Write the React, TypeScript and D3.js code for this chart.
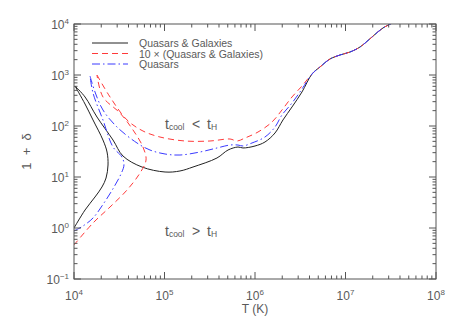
import { useEffect, useRef } from "react";
import * as d3 from "d3";

// values, as log10(T) and log10(1 + delta)
const tailLogT = [6.63, 6.718, 6.829, 6.939, 7.05, 7.16, 7.293, 7.414, 7.547];
const tailLogD = [3.02, 3.157, 3.314, 3.392, 3.451, 3.549, 3.745, 3.922, 4.04];

const blackLowLogT = [4.0, 4.122, 4.232, 4.309, 4.354, 4.376, 4.365, 4.32, 4.21, 4.122, 4.011];
const blackLowLogD = [0.0, 0.353, 0.608, 0.804, 0.98, 1.235, 1.49, 1.725, 2.118, 2.431, 2.784];
const blackHighLogT = [4.011, 4.122, 4.254, 4.431, 4.541, 4.751, 5.006, 5.171, 5.315, 5.58, 5.702, 5.812, 5.867, 6.0, 6.11, 6.221, 6.309, 6.409, 6.519];
const blackHighLogD = [2.784, 2.569, 2.176, 1.725, 1.412, 1.196, 1.098, 1.118, 1.196, 1.373, 1.529, 1.588, 1.569, 1.608, 1.686, 1.863, 2.118, 2.373, 2.667];

const redLowLogT = [4.0, 4.21, 4.398, 4.586, 4.729, 4.796, 4.762, 4.652, 4.508, 4.32, 4.254];
const redLowLogD = [-0.333, 0.098, 0.412, 0.745, 1.078, 1.333, 1.588, 1.922, 2.255, 2.569, 3.0];
const redHighLogT = [4.254, 4.398, 4.586, 4.762, 4.95, 5.227, 5.503, 5.724, 5.801, 5.89, 6.033, 6.188, 6.298, 6.409, 6.519];
const redHighLogD = [3.0, 2.569, 2.118, 1.902, 1.784, 1.706, 1.706, 1.745, 1.706, 1.765, 1.882, 2.078, 2.314, 2.569, 2.784];

const blueLowLogT = [4.0, 4.099, 4.21, 4.331, 4.442, 4.519, 4.552, 4.53, 4.431, 4.32, 4.21, 4.177];
const blueLowLogD = [-0.059, 0.039, 0.196, 0.49, 0.804, 1.059, 1.235, 1.392, 1.588, 2.118, 2.647, 2.98];
const blueHighLogT = [4.177, 4.232, 4.32, 4.475, 4.696, 4.84, 5.006, 5.171, 5.392, 5.58, 5.724, 5.812, 5.867, 5.967, 6.11, 6.221, 6.298, 6.409, 6.519];
const blueHighLogD = [2.98, 2.667, 2.314, 1.98, 1.667, 1.529, 1.451, 1.431, 1.49, 1.569, 1.627, 1.627, 1.608, 1.667, 1.784, 1.98, 2.216, 2.451, 2.725];

const xDecades = [4, 5, 6, 7, 8];
const yDecades = [-1, 0, 1, 2, 3, 4];

const legendLabels = ["Quasars & Galaxies", "10 \u00d7 (Quasars & Galaxies)", "Quasars"];

const W = 458;
const H = 327;
const left = 74;
const right = 436;
const top = 24;
const bottom = 279;

const axisColor = "#555";
const textColor = "#5a5a5a";
const font = "'Liberation Sans', Arial, sans-serif";

const toPoints = (lt: number[], ld: number[]) =>
  lt.map((t, i) => [Math.pow(10, t), Math.pow(10, ld[i])] as [number, number]);

const series = [
  { color: "#222", dash: null, low: [blackLowLogT, blackLowLogD], high: [blackHighLogT, blackHighLogD] },
  { color: "#ff3a3a", dash: "6,4", low: [redLowLogT, redLowLogD], high: [redHighLogT, redHighLogD] },
  { color: "#3a3aff", dash: "8,3,1.5,3", low: [blueLowLogT, blueLowLogD], high: [blueHighLogT, blueHighLogD] },
];

const App = () => {
  const ref = useRef<SVGSVGElement>(null);

  useEffect(() => {
    const svg = d3.select(ref.current);
    svg.selectAll("*").remove();

    const x = d3.scaleLog().domain([1e4, 1e8]).range([left, right]);
    const y = d3.scaleLog().domain([1e-1, 1e4]).range([bottom, top]);

    svg
      .append("defs")
      .append("clipPath")
      .attr("id", "plot-clip")
      .append("rect")
      .attr("x", left)
      .attr("y", top)
      .attr("width", right - left)
      .attr("height", bottom - top);

    const line = d3
      .line<[number, number]>()
      .x((d) => x(d[0]))
      .y((d) => y(d[1]))
      .curve(d3.curveCatmullRom.alpha(0.5));

    const curves = svg.append("g").attr("clip-path", "url(#plot-clip)");
    series.forEach((s) => {
      const lowPts = toPoints(s.low[0], s.low[1]);
      const highPts = toPoints(s.high[0], s.high[1]).concat(toPoints(tailLogT, tailLogD));
      [lowPts, highPts].forEach((pts) => {
        curves
          .append("path")
          .attr("d", line(pts))
          .attr("fill", "none")
          .attr("stroke", s.color)
          .attr("stroke-width", 1)
          .attr("stroke-dasharray", s.dash);
      });
    });

    // frame
    svg
      .append("rect")
      .attr("x", left)
      .attr("y", top)
      .attr("width", right - left)
      .attr("height", bottom - top)
      .attr("fill", "none")
      .attr("stroke", axisColor)
      .attr("stroke-width", 1);

    const ticks = svg.append("g").attr("stroke", axisColor).attr("stroke-width", 1);

    // x ticks (bottom and top, inward)
    xDecades.forEach((d, i) => {
      const px = x(Math.pow(10, d));
      ticks.append("line").attr("x1", px).attr("x2", px).attr("y1", bottom).attr("y2", bottom - 7);
      ticks.append("line").attr("x1", px).attr("x2", px).attr("y1", top).attr("y2", top + 7);
      if (i < xDecades.length - 1) {
        d3.range(2, 10).forEach((m) => {
          const mx = x(m * Math.pow(10, d));
          ticks.append("line").attr("x1", mx).attr("x2", mx).attr("y1", bottom).attr("y2", bottom - 3.5);
          ticks.append("line").attr("x1", mx).attr("x2", mx).attr("y1", top).attr("y2", top + 3.5);
        });
      }
    });

    // y ticks (left and right, inward)
    yDecades.forEach((d, i) => {
      const py = y(Math.pow(10, d));
      ticks.append("line").attr("x1", left).attr("x2", left + 7).attr("y1", py).attr("y2", py);
      ticks.append("line").attr("x1", right).attr("x2", right - 7).attr("y1", py).attr("y2", py);
      if (i < yDecades.length - 1) {
        d3.range(2, 10).forEach((m) => {
          const my = y(m * Math.pow(10, d));
          ticks.append("line").attr("x1", left).attr("x2", left + 3.5).attr("y1", my).attr("y2", my);
          ticks.append("line").attr("x1", right).attr("x2", right - 3.5).attr("y1", my).attr("y2", my);
        });
      }
    });

    const labels = svg
      .append("g")
      .attr("font-family", font)
      .attr("fill", textColor);

    // x tick labels
    xDecades.forEach((d) => {
      const t = labels
        .append("text")
        .attr("x", x(Math.pow(10, d)))
        .attr("y", 300)
        .attr("text-anchor", "middle")
        .attr("font-size", 12);
      t.append("tspan").text("10");
      t.append("tspan").attr("dy", -5).attr("font-size", 8).text(d);
    });

    // y tick labels
    yDecades.forEach((d) => {
      const t = labels
        .append("text")
        .attr("x", 69)
        .attr("y", y(Math.pow(10, d)) + 5)
        .attr("text-anchor", "end")
        .attr("font-size", 12);
      t.append("tspan").text("10");
      t.append("tspan").attr("dy", -5).attr("font-size", 8).text(d < 0 ? "\u2212" + Math.abs(d) : d);
    });

    labels
      .append("text")
      .attr("x", (left + right) / 2)
      .attr("y", 313)
      .attr("text-anchor", "middle")
      .attr("font-size", 12)
      .text("T (K)");

    labels
      .append("text")
      .attr("transform", `translate(31, ${(top + bottom) / 2}) rotate(-90)`)
      .attr("text-anchor", "middle")
      .attr("font-size", 13)
      .attr("xml:space", "preserve")
      .text("1  +  \u03b4");

    // region annotations
    const note = (yy: number, op: string) => {
      const t = labels.append("text").attr("x", 165).attr("y", yy).attr("font-size", 14);
      t.append("tspan").text("t");
      t.append("tspan").attr("font-size", 8.5).attr("dy", 1).text("cool");
      t.append("tspan").attr("x", 192).attr("dy", -1).text(op);
      t.append("tspan").attr("x", 207).text("t");
      t.append("tspan").attr("font-size", 8.5).attr("dy", 1).text("H");
    };
    note(129, "<");
    note(236, ">");

    // legend
    legendLabels.forEach((lab, i) => {
      const ly = 43 + i * 10.5;
      svg
        .append("line")
        .attr("x1", 92)
        .attr("x2", 128)
        .attr("y1", ly)
        .attr("y2", ly)
        .attr("stroke", series[i].color)
        .attr("stroke-width", 1)
        .attr("stroke-dasharray", series[i].dash);
      labels
        .append("text")
        .attr("x", 139)
        .attr("y", ly + 4)
        .attr("font-size", 10.5)
        .text(lab);
    });
  }, []);

  return (
    <svg
      ref={ref}
      width={W}
      height={H}
      style={{ position: "absolute", left: 0, top: 0, background: "#fff" }}
    ></svg>
  );
};

export default App;
